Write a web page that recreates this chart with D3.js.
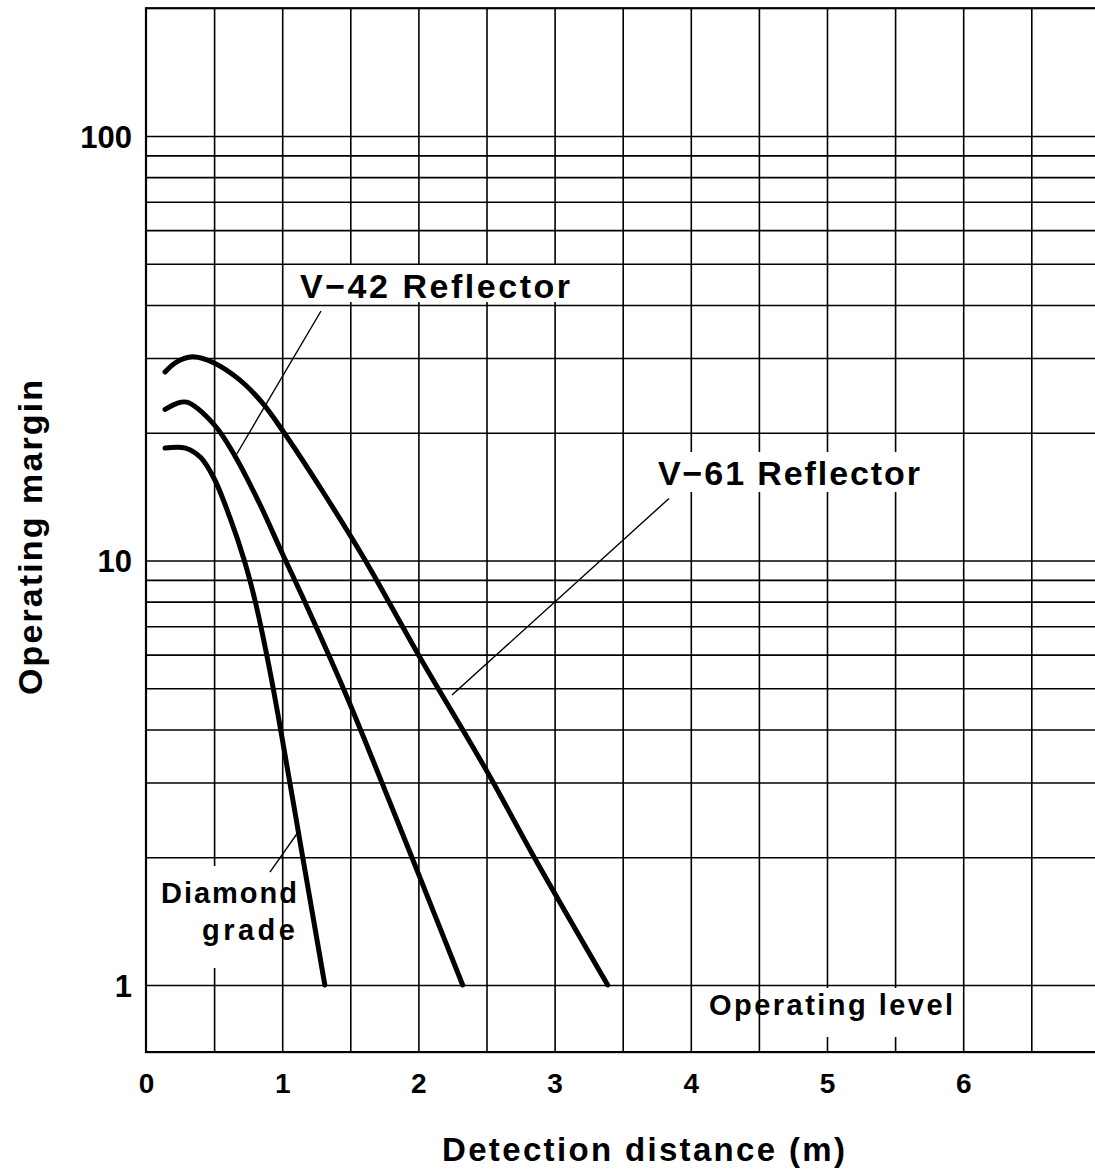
<!DOCTYPE html>
<html>
<head>
<meta charset="utf-8">
<script src="https://cdn.jsdelivr.net/npm/d3@7"></script>
<style>
  html, body { margin: 0; padding: 0; background: #fff; }
  svg { display: block; }
  text { font-family: "Liberation Sans", Arial, Helvetica, sans-serif; font-weight: bold; fill: #000; }
</style>
</head>
<body>
<svg id="chart" width="1095" height="1169"></svg>
<script>
// ---------- data ----------
const distV61 = [0.14, 0.22, 0.34, 0.5, 0.69, 0.85, 1.0, 1.3, 1.61, 2.0, 2.5, 2.85, 3.39];
const marginV61 = [27.8, 29.3, 30.2, 29.2, 26.6, 23.6, 20.3, 14.5, 10, 6.0, 3.2, 2.0, 1];

const distV42 = [0.14, 0.22, 0.30, 0.5, 0.65, 0.837, 1.0, 1.15, 1.46, 1.73, 1.96, 2.325];
const marginV42 = [22.7, 23.4, 23.6, 20.9, 17.7, 13.55, 10.4, 8.2, 4.9, 3.01, 1.97, 1];

const distDiamond = [0.14, 0.29, 0.40, 0.5, 0.617, 0.722, 0.80, 0.90, 0.99, 1.153, 1.313];
const marginDiamond = [18.4, 18.4, 17.5, 15.6, 12.6, 10, 8.06, 5.7, 3.97, 1.98, 1.0];

const xTickLabels = [0, 1, 2, 3, 4, 5, 6];
const yTickLabels = [1, 10, 100];
const xGridValues = [0.5, 1, 1.5, 2, 2.5, 3, 3.5, 4, 4.5, 5, 5.5, 6, 6.5];
const yGridValues = [1, 2, 3, 4, 5, 6, 7, 8, 9, 10, 20, 30, 40, 50, 60, 70, 80, 90, 100];
const xDomain = [0, 7];
const yDomain = [0.695, 200];

const xTitle = "Detection distance (m)";
const yTitle = "Operating margin";

// ---------- scales ----------
const svg = d3.select("#chart");
const x = d3.scaleLinear().domain([0, 7]).range([146, 146 + 7 * 136.2]);
const y = d3.scaleLog().domain([1, 100]).range([985, 136]);

const x0 = x(xDomain[0]), x1 = x(xDomain[1]);
const yTop = y(yDomain[1]), yBot = y(yDomain[0]);

// ---------- grid via axes ----------
const gridX = svg.append("g")
  .attr("transform", `translate(0,${yBot})`)
  .call(d3.axisBottom(x).tickValues(xGridValues).tickSize(-(yBot - yTop)).tickFormat(""));
gridX.select(".domain").remove();
gridX.selectAll(".tick line").attr("stroke", "#000").attr("stroke-width", 1.6);

const gridY = svg.append("g")
  .attr("transform", `translate(${x0},0)`)
  .call(d3.axisLeft(y).tickValues(yGridValues).tickSize(-(x1 - x0)).tickFormat(""));
gridY.select(".domain").remove();
gridY.selectAll(".tick line").attr("stroke", "#000").attr("stroke-width", 1.6);

// frame
svg.append("rect")
  .attr("x", x0).attr("y", yTop)
  .attr("width", x1 - x0).attr("height", yBot - yTop)
  .attr("fill", "none").attr("stroke", "#000").attr("stroke-width", 2.2);

// ---------- tick labels ----------
const xLab = svg.append("g")
  .attr("transform", `translate(0,${yBot})`)
  .call(d3.axisBottom(x).tickValues(xTickLabels).tickSize(0).tickPadding(0).tickFormat(d3.format("d")));
xLab.select(".domain").remove();
xLab.selectAll("text")
  .attr("font-size", 28).attr("dy", null).attr("y", 41)
  .style("font-family", "'Liberation Sans', Arial, sans-serif").style("font-weight", "bold");

const yLab = svg.append("g")
  .attr("transform", `translate(${x0},0)`)
  .call(d3.axisLeft(y).tickValues(yTickLabels).tickSize(0).tickPadding(0).tickFormat(d3.format("d")));
yLab.select(".domain").remove();
yLab.selectAll("text")
  .attr("font-size", 31).attr("x", -14).attr("dy", "0.36em")
  .style("font-family", "'Liberation Sans', Arial, sans-serif").style("font-weight", "bold");

// ---------- axis titles ----------
svg.append("text")
  .attr("x", 442).attr("y", 1161)
  .attr("font-size", 33)
  .attr("textLength", 403).attr("lengthAdjust", "spacing")
  .text(xTitle);

svg.append("text")
  .attr("transform", "translate(42,695) rotate(-90)")
  .attr("font-size", 34)
  .attr("textLength", 315).attr("lengthAdjust", "spacing")
  .text(yTitle);

// ---------- curves ----------
const line = d3.line()
  .x(d => x(d[0]))
  .y(d => y(d[1]))
  .curve(d3.curveCatmullRom.alpha(0.5));

const series = [
  [distV61, marginV61],
  [distV42, marginV42],
  [distDiamond, marginDiamond]
];
series.forEach(([xs, ys]) => {
  svg.append("path")
    .datum(xs.map((d, i) => [d, ys[i]]))
    .attr("d", line)
    .attr("fill", "none")
    .attr("stroke", "#000")
    .attr("stroke-width", 5)
    .attr("stroke-linecap", "round");
});

// ---------- annotations ----------
const annotations = [
  { lines: ["V\u221242  Reflector"], at: [1.131, 41.5], size: 34, len: [270],
    bg: { left: -5, right: 8, top: 265, bottom: 302 },
    leader: [[1.285, 38.7], [0.661, 17.7]] },
  { lines: ["V\u221261  Reflector"], at: [3.759, 15.06], size: 34, len: [262],
    bg: { left: -8, right: 8, top: 452, bottom: 492 },
    leader: [[3.84, 14.0], [2.247, 4.82]] },
  { lines: ["Diamond", "grade"], at: [0.110, 1.56], at2: [0.411, 1.276], size: 29, len: [136, 93],
    bg: { left: -11, right: -19, top: 866, bottom: 968 },
    leader: [[1.116, 2.29], [0.910, 1.845]] },
  { lines: ["Operating  level"], at: [4.134, 0.85], size: 29, len: [244],
    bg: { left: 61, right: 2, top: 988, bottom: 1037 },
    leader: null }
];

annotations.forEach(a => {
  const g = svg.append("g");
  const bg = g.append("rect").attr("fill", "#fff");
  const tx = [];
  tx.push(g.append("text")
    .attr("x", x(a.at[0])).attr("y", y(a.at[1]))
    .attr("font-size", a.size)
    .attr("textLength", a.len[0]).attr("lengthAdjust", "spacing")
    .text(a.lines[0]));
  if (a.lines[1]) {
    tx.push(g.append("text")
      .attr("x", x(a.at2[0])).attr("y", y(a.at2[1]))
      .attr("font-size", a.size)
      .attr("textLength", a.len[1]).attr("lengthAdjust", "spacing")
      .text(a.lines[1]));
  }
  const left = Math.min(...tx.map(t => +t.attr("x")));
  const right = Math.max(...tx.map((t, i) => +t.attr("x") + a.len[i]));
  bg.attr("x", left + a.bg.left)
    .attr("y", a.bg.top)
    .attr("width", (right + a.bg.right) - (left + a.bg.left))
    .attr("height", a.bg.bottom - a.bg.top);
  if (a.leader) {
    svg.append("line")
      .attr("x1", x(a.leader[0][0])).attr("y1", y(a.leader[0][1]))
      .attr("x2", x(a.leader[1][0])).attr("y2", y(a.leader[1][1]))
      .attr("stroke", "#000").attr("stroke-width", 1.4);
  }
});
</script>
</body>
</html>
